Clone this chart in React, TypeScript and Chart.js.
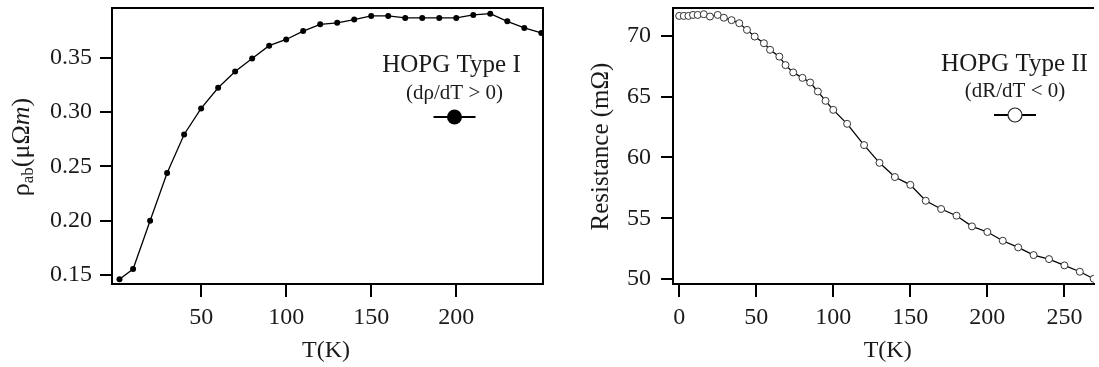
import React, { useEffect, useRef } from "react";
import { Chart, registerables } from "chart.js";

Chart.register(...registerables);

// ---------- data ----------
const leftT = [2, 10, 20, 30, 40, 50, 60, 70, 80, 90, 100, 110, 120, 130, 140, 150, 160, 170, 180, 190, 200, 210, 220, 230, 240, 250];
const leftRho = [0.146, 0.1555, 0.2, 0.244, 0.2795, 0.3035, 0.3225, 0.3374, 0.3494, 0.3613, 0.367, 0.3747, 0.381, 0.3823, 0.3853, 0.3887, 0.3887, 0.3869, 0.3869, 0.3869, 0.3869, 0.3896, 0.3908, 0.3837, 0.3776, 0.373];

const rightT = [0, 3, 6, 9, 12, 16, 20, 25, 29, 34, 39, 44, 49, 55, 59, 65, 69, 74, 80, 85, 90, 95, 100, 109, 120, 130, 140, 150, 160, 170, 180, 190, 200, 210, 220, 230, 240, 250, 260, 269];
const rightR = [71.65, 71.65, 71.65, 71.73, 71.73, 71.79, 71.6, 71.73, 71.5, 71.3, 71.05, 70.5, 69.95, 69.4, 68.86, 68.3, 67.6, 67.0, 66.55, 66.17, 65.43, 64.66, 63.92, 62.77, 61.02, 59.56, 58.39, 57.75, 56.44, 55.76, 55.21, 54.33, 53.87, 53.15, 52.6, 51.97, 51.64, 51.12, 50.6, 50.02];

const leftXTicks = [50, 100, 150, 200];
const leftYTicks = [0.15, 0.2, 0.25, 0.3, 0.35];
const rightXTicks = [0, 50, 100, 150, 200, 250];
const rightYTicks = [50, 55, 60, 65, 70];

const xTitle = "T(K)";
const leftLegendTitle = "HOPG Type I";
const leftLegendSub = "(dρ/dT > 0)";
const rightLegendTitle = "HOPG Type II";
const rightLegendSub = "(dR/dT < 0)";
const rightYTitle = "Resistance (mΩ)";

const SERIF = "'Liberation Serif', 'DejaVu Serif', serif";
const TXT = "#1a1a1a";

type Seg = { text: string; size: number; italic?: boolean; dy?: number };

function drawSegs(ctx: CanvasRenderingContext2D, segs: Seg[], cx: number, baseline: number, rotate: boolean) {
  ctx.save();
  let total = 0;
  for (const s of segs) {
    ctx.font = `${s.italic ? "italic " : ""}${s.size}px ${SERIF}`;
    total += ctx.measureText(s.text).width;
  }
  ctx.translate(cx, baseline);
  if (rotate) ctx.rotate(-Math.PI / 2);
  ctx.fillStyle = TXT;
  ctx.textBaseline = "alphabetic";
  ctx.textAlign = "left";
  let x = -total / 2;
  for (const s of segs) {
    ctx.font = `${s.italic ? "italic " : ""}${s.size}px ${SERIF}`;
    ctx.fillText(s.text, x, s.dy || 0);
    x += ctx.measureText(s.text).width;
  }
  ctx.restore();
}

type PanelCfg = {
  xs: number[];
  ys: number[];
  xMin: number;
  xMax: number;
  yMin: number;
  yMax: number;
  xTicks: number[];
  yTicks: number[];
  yFmt: (v: number) => string;
  yAxisWidth: number;
  padRight: number;
  yLabelPad: number;
  filled: boolean;
  rightBorder: boolean;
  yTitle: Seg[];
  yTitleX: number;
  yTitleY: number;
  xTitleX: number;
  legendTitle: string;
  legendSub: string;
  legendX: number;
  legendSubX: number;
  legendTitleY: number;
  legendSubY: number;
  markerY: number;
};

function makeChart(canvas: HTMLCanvasElement, c: PanelCfg) {
  const data = c.xs.map((x, i) => ({ x, y: c.ys[i] }));
  const deco = {
    id: "deco",
    afterDraw(chart: any) {
      const ctx = chart.ctx as CanvasRenderingContext2D;
      const a = chart.chartArea;
      ctx.save();
      ctx.strokeStyle = "#000";
      ctx.lineWidth = 2;
      ctx.beginPath();
      ctx.moveTo(a.left, a.top);
      ctx.lineTo(a.right, a.top);
      if (c.rightBorder) ctx.lineTo(a.right, a.bottom);
      ctx.stroke();
      ctx.restore();

      // axis titles
      drawSegs(ctx, [{ text: xTitle, size: 24 }], c.xTitleX, 357, false);
      drawSegs(ctx, c.yTitle, c.yTitleX, c.yTitleY, true);

      // legend
      drawSegs(ctx, [{ text: c.legendTitle, size: 25 }], c.legendX, c.legendTitleY, false);
      drawSegs(ctx, [{ text: c.legendSub, size: 21 }], c.legendSubX, c.legendSubY, false);
      ctx.save();
      ctx.strokeStyle = "#000";
      ctx.lineWidth = 2;
      ctx.beginPath();
      ctx.moveTo(c.legendSubX - 21, c.markerY);
      ctx.lineTo(c.legendSubX + 21, c.markerY);
      ctx.stroke();
      ctx.beginPath();
      ctx.arc(c.legendSubX, c.markerY, c.filled ? 7.5 : 7, 0, Math.PI * 2);
      if (c.filled) {
        ctx.fillStyle = "#000";
        ctx.fill();
      } else {
        ctx.fillStyle = "#fff";
        ctx.fill();
        ctx.lineWidth = 1.2;
        ctx.strokeStyle = "#222";
        ctx.stroke();
      }
      ctx.restore();
    },
  };

  return new Chart(canvas, {
    type: "line",
    data: {
      datasets: [
        {
          data,
          borderColor: "#000",
          borderWidth: 1.3,
          pointRadius: c.filled ? 3 : 3.5,
          pointBackgroundColor: c.filled ? "#000" : "#fff",
          pointBorderColor: c.filled ? "#000" : "#333",
          pointBorderWidth: c.filled ? 0 : 1,
          tension: 0,
        },
      ],
    },
    options: {
      responsive: false,
      animation: false,
      devicePixelRatio: 1,
      layout: { padding: { top: 8, right: c.padRight, left: 0, bottom: 0 } },
      plugins: { legend: { display: false }, tooltip: { enabled: false } },
      scales: {
        x: {
          type: "linear",
          min: c.xMin,
          max: c.xMax,
          afterBuildTicks: (s: any) => {
            s.ticks = c.xTicks.map((v) => ({ value: v }));
          },
          afterFit: (s: any) => {
            s.height = 83;
            s.paddingLeft = 0;
            s.paddingRight = 0;
          },
          border: { display: true, color: "#000", width: 2 },
          grid: { drawOnChartArea: false, drawTicks: true, tickLength: 13, tickWidth: 2, tickColor: "#000", color: "#000", lineWidth: 2 },
          ticks: {
            autoSkip: false,
            maxRotation: 0,
            padding: 6,
            color: TXT,
            font: { family: SERIF, size: 24 },
            callback: (v: any) => String(v),
          },
        },
        y: {
          type: "linear",
          min: c.yMin,
          max: c.yMax,
          afterBuildTicks: (s: any) => {
            s.ticks = c.yTicks.map((v) => ({ value: v }));
          },
          afterFit: (s: any) => {
            s.width = c.yAxisWidth;
            s.paddingTop = 0;
            s.paddingBottom = 0;
          },
          border: { display: true, color: "#000", width: 2 },
          grid: { drawOnChartArea: false, drawTicks: true, tickLength: 12, tickWidth: 2, tickColor: "#000", color: "#000", lineWidth: 2 },
          ticks: {
            autoSkip: false,
            padding: c.yLabelPad,
            color: TXT,
            font: { family: SERIF, size: 24 },
            callback: (v: any) => c.yFmt(Number(v)),
          },
        },
      },
    },
    plugins: [deco],
  } as any);
}

export default function App() {
  const leftRef = useRef<HTMLCanvasElement>(null);
  const rightRef = useRef<HTMLCanvasElement>(null);

  useEffect(() => {
    const l = makeChart(leftRef.current!, {
      xs: leftT,
      ys: leftRho,
      xMin: -2.4,
      xMax: 251,
      yMin: 0.1417,
      yMax: 0.396,
      xTicks: leftXTicks,
      yTicks: leftYTicks,
      yFmt: (v) => v.toFixed(2),
      yAxisWidth: 112,
      padRight: 17,
      yLabelPad: 8,
      filled: true,
      rightBorder: true,
      yTitle: [
        { text: "ρ", size: 26 },
        { text: "ab", size: 17, dy: 4 },
        { text: "(μΩ", size: 26 },
        { text: "m", size: 26, italic: true },
        { text: ")", size: 26 },
      ],
      yTitleX: 29,
      yTitleY: 147,
      xTitleX: 326,
      legendTitle: leftLegendTitle,
      legendSub: leftLegendSub,
      legendX: 451.5,
      legendSubX: 454.5,
      legendTitleY: 71.5,
      legendSubY: 98.5,
      markerY: 117,
    });
    const r = makeChart(rightRef.current!, {
      xs: rightT,
      ys: rightR,
      xMin: -4,
      xMax: 269.2,
      yMin: 49.59,
      yMax: 72.3,
      xTicks: rightXTicks,
      yTicks: rightYTicks,
      yFmt: (v) => String(v),
      yAxisWidth: 113,
      padRight: 0,
      yLabelPad: 10,
      filled: false,
      rightBorder: false,
      yTitle: [{ text: rightYTitle, size: 25 }],
      yTitleX: 48,
      yTitleY: 146.5,
      xTitleX: 327.7,
      legendTitle: rightLegendTitle,
      legendSub: rightLegendSub,
      legendX: 454.5,
      legendSubX: 455,
      legendTitleY: 71,
      legendSubY: 96.5,
      markerY: 115,
    });
    return () => {
      l.destroy();
      r.destroy();
    };
  }, []);

  return (
    <div style={{ position: "absolute", left: 0, top: 0, width: 1099, height: 367, background: "#fff", overflow: "hidden" }}>
      <canvas ref={leftRef} width={560} height={367} style={{ position: "absolute", left: 0, top: 0, width: 560, height: 367 }} />
      <canvas ref={rightRef} width={539} height={367} style={{ position: "absolute", left: 560, top: 0, width: 539, height: 367 }} />
    </div>
  );
}
